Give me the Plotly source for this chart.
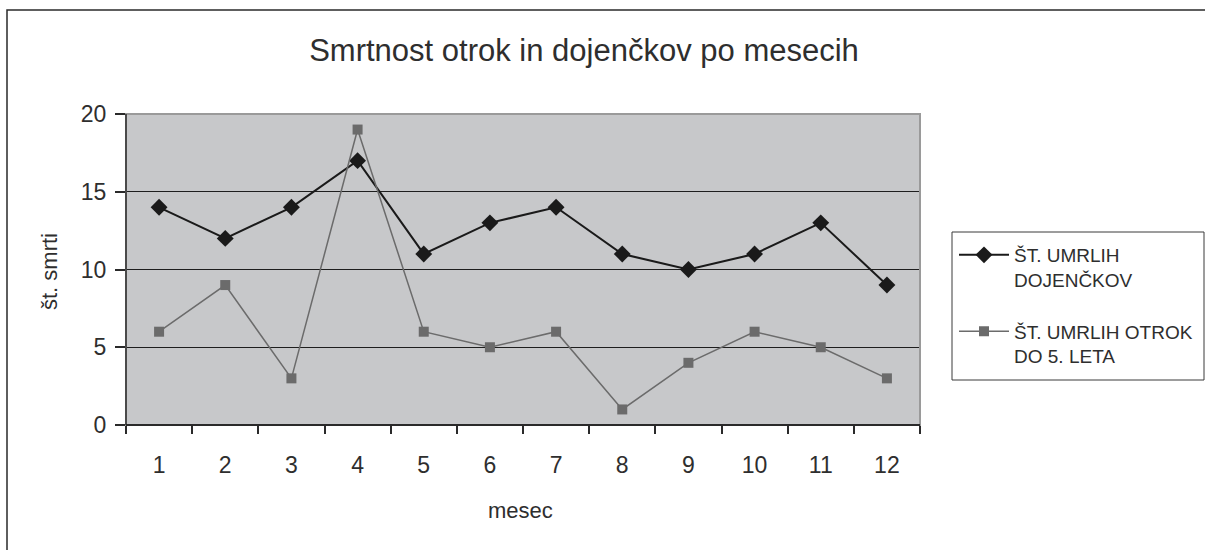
import plotly.graph_objects as go

months = ["1", "2", "3", "4", "5", "6", "7", "8", "9", "10", "11", "12"]
dojencki = [14, 12, 14, 17, 11, 13, 14, 11, 10, 11, 13, 9]
otroci = [6, 9, 3, 19, 6, 5, 6, 1, 4, 6, 5, 3]
series_names = ["ŠT. UMRLIH<br>DOJENČKOV", "ŠT. UMRLIH OTROK<br>DO 5. LETA"]
title_text = "Smrtnost otrok in dojenčkov po mesecih"
x_title = "mesec"
y_title = "št. smrti"

W, H = 1205, 550
L, R, T, B = 126, 920, 114, 425  # plot area pixels
pw, ph = R - L, B - T

def px(x):
    return (x - L) / pw

def py(y):
    return (B - y) / ph

FONT = "Liberation Sans, Arial, sans-serif"
TXT = "#2e2e2e"

fig = go.Figure()
fig.add_trace(go.Scatter(
    x=months, y=dojencki, name=series_names[0], mode="lines+markers", legendgroup="a",
    line=dict(color="#1a1a1a", width=2),
    marker=dict(symbol="diamond", size=13, color="#1a1a1a"),
))
fig.add_trace(go.Scatter(
    x=months, y=otroci, name=series_names[1], mode="lines+markers", legendgroup="b",
    line=dict(color="#6b6b6b", width=1.5),
    marker=dict(symbol="square", size=10, color="#6b6b6b"),
))

shapes = [
    dict(type="rect", xref="paper", yref="paper", x0=px(7), x1=px(1215), y0=py(560), y1=py(10),
         line=dict(color="#2a2a2a", width=1.5), fillcolor="rgba(0,0,0,0)", layer="below"),
    dict(type="rect", xref="paper", yref="paper", x0=0, x1=1, y0=0, y1=1,
         line=dict(color="#9a9a9a", width=2), fillcolor="rgba(0,0,0,0)", layer="above"),
    dict(type="line", xref="paper", yref="paper", x0=0, x1=0, y0=0, y1=1,
         line=dict(color="#4a4a4a", width=2), layer="above"),
    dict(type="line", xref="paper", yref="paper", x0=0, x1=1, y0=0, y1=0,
         line=dict(color="#2a2a2a", width=2), layer="above"),
    dict(type="rect", xref="paper", yref="paper", x0=px(952), x1=px(1204), y0=py(380), y1=py(232),
         line=dict(color="#3a3a3a", width=1), fillcolor="white", layer="below"),
]

fig.update_layout(
    width=W, height=H,
    margin=dict(l=L, r=W - R, t=T, b=H - B, autoexpand=False),
    paper_bgcolor="white",
    plot_bgcolor="#c7c8ca",
    font=dict(family=FONT, color=TXT),
    title=dict(text=title_text, xref="container", yref="container", x=584 / W, y=1 - 50 / H,
               xanchor="center", yanchor="middle", font=dict(size=31, color=TXT)),
    showlegend=True,
    legend=dict(xref="container", yref="container", x=954 / W, y=1 - 236 / H,
                xanchor="left", yanchor="top", valign="top",
                bgcolor="rgba(0,0,0,0)", borderwidth=0,
                font=dict(size=19, color=TXT), itemwidth=50, tracegroupgap=24),
    xaxis=dict(type="category", range=[-0.5, 11.5], showgrid=False, zeroline=False,
               ticks="outside", ticklen=8, tickcolor="#2a2a2a", tickwidth=1.5,
               tickson="boundaries", showline=False,
               tickfont=dict(size=23, color=TXT), ticklabelstandoff=24),
    yaxis=dict(range=[0, 20], tickvals=[0, 5, 10, 15, 20], showgrid=True,
               gridcolor="#1e1e1e", gridwidth=1, zeroline=False,
               ticks="outside", ticklen=10, tickcolor="#2a2a2a", tickwidth=1.5,
               showline=False, tickfont=dict(size=23, color=TXT), ticklabelstandoff=4),
    shapes=shapes,
    annotations=[
        dict(text=x_title, xref="paper", yref="paper", x=px(520), y=py(510),
             xanchor="center", yanchor="middle", showarrow=False, font=dict(size=22, color=TXT)),
        dict(text=y_title, xref="paper", yref="paper", x=px(49), y=py(272),
             xanchor="center", yanchor="middle", showarrow=False, textangle=-90,
             font=dict(size=22, color=TXT)),
    ],
)

fig.write_html("out.html", config={"displayModeBar": False},
               post_script="document.body.style.margin='0px';")
